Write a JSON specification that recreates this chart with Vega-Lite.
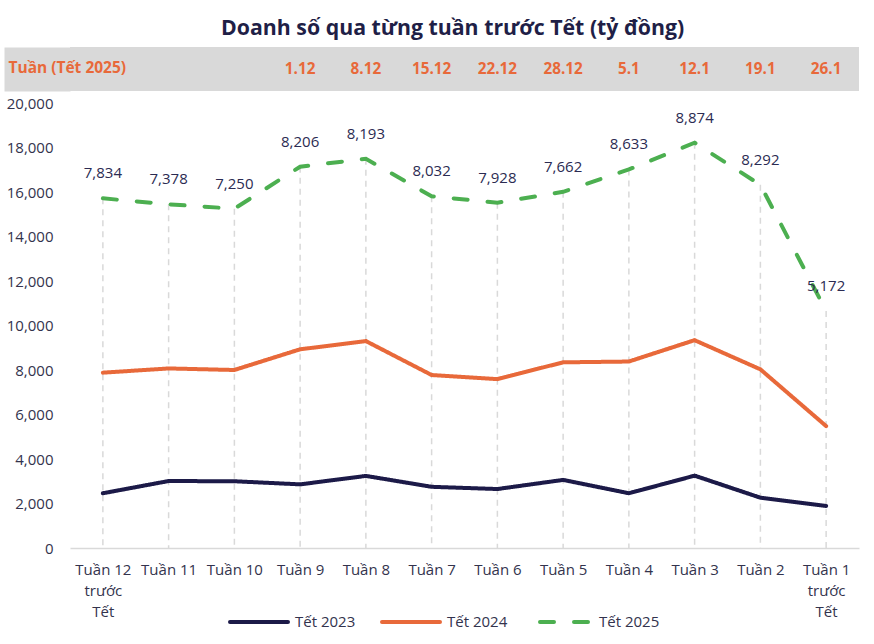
{
  "$schema": "https://vega.github.io/schema/vega-lite/v6.json",
  "padding": {"left": 6, "top": 17, "right": 8, "bottom": 5},
  "background": "white",
  "title": {"text": "Doanh số qua từng tuần trước Tết (tỷ đồng)", "font": "Open Sans", "fontSize": 21.3, "fontWeight": "bold", "color": "#1f1f47", "anchor": "middle", "dx": 20, "offset": 8},
  "config": {"font": "Open Sans", "view": {"stroke": null}},
  "datasets": {
    "weeks": [
      {"week": "Tuần 12 trước Tết", "date": ""},
      {"week": "Tuần 11", "date": ""},
      {"week": "Tuần 10", "date": ""},
      {"week": "Tuần 9", "date": "1.12"},
      {"week": "Tuần 8", "date": "8.12"},
      {"week": "Tuần 7", "date": "15.12"},
      {"week": "Tuần 6", "date": "22.12"},
      {"week": "Tuần 5", "date": "28.12"},
      {"week": "Tuần 4", "date": "5.1"},
      {"week": "Tuần 3", "date": "12.1"},
      {"week": "Tuần 2", "date": "19.1"},
      {"week": "Tuần 1 trước Tết", "date": "26.1"}
    ],
    "sales": [
      {"week": "Tuần 12 trước Tết", "series": "Tết 2023", "value": 2460},
      {"week": "Tuần 11", "series": "Tết 2023", "value": 3010},
      {"week": "Tuần 10", "series": "Tết 2023", "value": 3000},
      {"week": "Tuần 9", "series": "Tết 2023", "value": 2860},
      {"week": "Tuần 8", "series": "Tết 2023", "value": 3240},
      {"week": "Tuần 7", "series": "Tết 2023", "value": 2750},
      {"week": "Tuần 6", "series": "Tết 2023", "value": 2650},
      {"week": "Tuần 5", "series": "Tết 2023", "value": 3060},
      {"week": "Tuần 4", "series": "Tết 2023", "value": 2460},
      {"week": "Tuần 3", "series": "Tết 2023", "value": 3250},
      {"week": "Tuần 2", "series": "Tết 2023", "value": 2260},
      {"week": "Tuần 1 trước Tết", "series": "Tết 2023", "value": 1890},
      {"week": "Tuần 12 trước Tết", "series": "Tết 2024", "value": 5420},
      {"week": "Tuần 11", "series": "Tết 2024", "value": 5060},
      {"week": "Tuần 10", "series": "Tết 2024", "value": 5000},
      {"week": "Tuần 9", "series": "Tết 2024", "value": 6070},
      {"week": "Tuần 8", "series": "Tết 2024", "value": 6060},
      {"week": "Tuần 7", "series": "Tết 2024", "value": 5025},
      {"week": "Tuần 6", "series": "Tết 2024", "value": 4940},
      {"week": "Tuần 5", "series": "Tết 2024", "value": 5285},
      {"week": "Tuần 4", "series": "Tết 2024", "value": 5920},
      {"week": "Tuần 3", "series": "Tết 2024", "value": 6090},
      {"week": "Tuần 2", "series": "Tết 2024", "value": 5770},
      {"week": "Tuần 1 trước Tết", "series": "Tết 2024", "value": 3590},
      {"week": "Tuần 12 trước Tết", "series": "Tết 2025", "value": 7834},
      {"week": "Tuần 11", "series": "Tết 2025", "value": 7378},
      {"week": "Tuần 10", "series": "Tết 2025", "value": 7250},
      {"week": "Tuần 9", "series": "Tết 2025", "value": 8206},
      {"week": "Tuần 8", "series": "Tết 2025", "value": 8193},
      {"week": "Tuần 7", "series": "Tết 2025", "value": 8032},
      {"week": "Tuần 6", "series": "Tết 2025", "value": 7928},
      {"week": "Tuần 5", "series": "Tết 2025", "value": 7662},
      {"week": "Tuần 4", "series": "Tết 2025", "value": 8633},
      {"week": "Tuần 3", "series": "Tết 2025", "value": 8874},
      {"week": "Tuần 2", "series": "Tết 2025", "value": 8292},
      {"week": "Tuần 1 trước Tết", "series": "Tết 2025", "value": 5172}
    ]
  },
  "spacing": 5,
  "vconcat": [
    {
      "width": 789,
      "height": 44,
      "view": {"fill": "#d9d9d9", "stroke": null},
      "data": {"name": "weeks"},
      "mark": {"type": "text", "font": "Open Sans", "fontSize": 15.3, "fontWeight": "bold", "color": "#e8693a", "baseline": "middle"},
      "encoding": {
        "x": {"field": "week", "type": "nominal", "sort": ["Tuần 12 trước Tết", "Tuần 11", "Tuần 10", "Tuần 9", "Tuần 8", "Tuần 7", "Tuần 6", "Tuần 5", "Tuần 4", "Tuần 3", "Tuần 2", "Tuần 1 trước Tết"], "scale": {"type": "point", "padding": 0.5}, "axis": null},
        "y": {"datum": "Tuần (Tết 2025)", "type": "nominal", "axis": {"orient": "left", "title": "Tuần (Tết 2025)", "titleAngle": 0, "titleAlign": "left", "titleBaseline": "middle", "titleX": -29, "titleY": 20, "titleColor": "#e8693a", "titleFont": "Open Sans", "titleFontSize": 15.5, "titleFontWeight": "bold", "labels": false, "ticks": false, "tickSize": 0, "domain": true, "domainColor": "#d9d9d9", "domainWidth": 66, "domainCap": "butt", "offset": 33}},
        "text": {"field": "date"}
      }
    },
    {
      "width": 789,
      "height": 445,
      "data": {"name": "sales"},
      "transform": [{"stack": "value", "groupby": ["week"], "sort": [{"field": "series", "order": "ascending"}], "as": ["v0", "v1"]}],
      "encoding": {
        "x": {"field": "week", "type": "nominal", "sort": ["Tuần 12 trước Tết", "Tuần 11", "Tuần 10", "Tuần 9", "Tuần 8", "Tuần 7", "Tuần 6", "Tuần 5", "Tuần 4", "Tuần 3", "Tuần 2", "Tuần 1 trước Tết"], "scale": {"type": "point", "padding": 0.5},
          "axis": {"title": null, "labelAngle": 0, "ticks": false, "tickSize": 0, "domainColor": "#d9d9d9", "domainWidth": 1.5, "labelPadding": 14, "labelFontSize": 15, "labelFont": "Open Sans", "labelColor": "#33334d", "labelLineHeight": 21, "labelLimit": 0,
            "labelExpr": "indexof(datum.label, ' trước') > 0 ? [substring(datum.label, 0, indexof(datum.label, ' trước')), 'trước', 'Tết'] : datum.label"}},
        "y": {"field": "v1", "type": "quantitative", "scale": {"domain": [0, 20000]},
          "axis": {"title": null, "values": [0, 2000, 4000, 6000, 8000, 10000, 12000, 14000, 16000, 18000, 20000], "format": ",.0f", "domain": false, "ticks": false, "tickSize": 0, "grid": false, "labelPadding": 17, "labelFontSize": 15, "labelFont": "Open Sans", "labelColor": "#33334d"}}
      },
      "layer": [
        {
          "transform": [{"filter": "datum.series === 'Tết 2025'"}],
          "mark": {"type": "rule", "color": "#d9d9d9", "strokeWidth": 1.5, "strokeDash": [6, 5]},
          "encoding": {
            "y2": {"datum": 0}
          }
        },
        {
          "mark": {"type": "line", "strokeWidth": 4, "strokeCap": "round"},
          "encoding": {
            "color": {"field": "series", "type": "nominal", "scale": {"domain": ["Tết 2023", "Tết 2024", "Tết 2025"], "range": ["#1c1a48", "#e8693a", "#4caf50"]},
              "legend": {"title": null, "orient": "none", "legendX": 158, "legendY": 544, "direction": "horizontal", "symbolType": "stroke", "symbolSize": 3364, "symbolStrokeWidth": 4, "labelFontSize": 15, "labelFont": "Open Sans", "labelColor": "#33334d", "columnPadding": 18, "labelOffset": 5,
                "encode": {"symbols": {"update": {"strokeCap": {"value": "round"}, "strokeDashOffset": {"value": -6}}}}}},
            "strokeDash": {"field": "series", "type": "nominal", "scale": {"domain": ["Tết 2023", "Tết 2024", "Tết 2025"], "range": [[1, 0], [1, 0], [14, 20]]}, "legend": {"title": null, "orient": "none", "legendX": 158, "legendY": 544, "direction": "horizontal", "symbolType": "stroke", "symbolSize": 3364, "symbolStrokeWidth": 4, "labelFontSize": 15, "labelFont": "Open Sans", "labelColor": "#33334d", "columnPadding": 18, "labelOffset": 5,
                "encode": {"symbols": {"update": {"strokeCap": {"value": "round"}, "strokeDashOffset": {"value": -6}}}}}}
          }
        },
        {
          "transform": [{"filter": "datum.series === 'Tết 2025'"}],
          "mark": {"type": "text", "dy": -25, "fontSize": 15, "font": "Open Sans", "color": "#2b2b52", "baseline": "middle"},
          "encoding": {
            "text": {"field": "value", "type": "quantitative", "format": ","}
          }
        }
      ]
    }
  ]
}
